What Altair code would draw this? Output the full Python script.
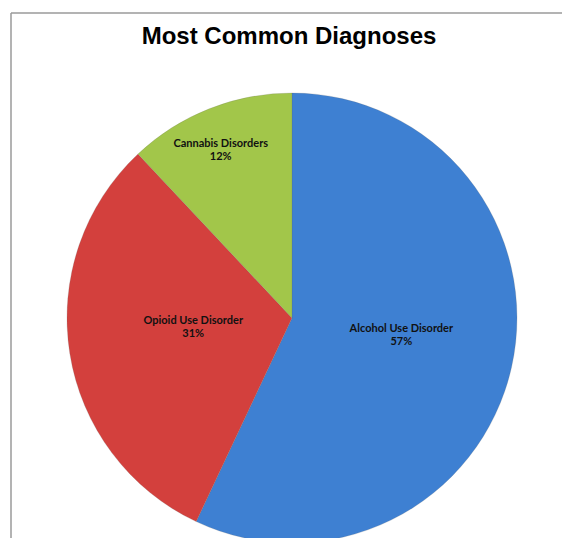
import altair as alt
import pandas as pd

categories = ["Alcohol Use Disorder", "Opioid Use Disorder", "Cannabis Disorders"]
shares = [57, 31, 12]
colors = ["#3e80d2", "#d3403d", "#a2c64a"]

df = pd.DataFrame({
    "category": categories,
    "share": shares,
    "order": list(range(len(categories))),
})
df["label"] = df["category"] + "\n" + df["share"].astype(str) + "%"

CX, CY, R = 284, 310, 225

pie = alt.Chart(df).mark_arc(outerRadius=R, stroke="#6a6a6a", strokeWidth=0.4, strokeOpacity=0.5).encode(
    theta=alt.Theta("share:Q", stack=True),
    order=alt.Order("order:Q"),
    x=alt.value(CX), y=alt.value(CY),
    color=alt.Color("category:N", scale=alt.Scale(domain=categories, range=colors), legend=None),
)

label_base = alt.Chart(df).transform_joinaggregate(
    total="sum(share)"
).transform_window(
    cum="sum(share)", sort=[alt.SortField("order")], frame=[None, 0]
).transform_calculate(
    mid="(datum.cum - datum.share / 2) / datum.total"
)

# (radius, dx, dy) label placement per slice
label_place = {
    "Alcohol Use Disorder": (111, 1, -13),
    "Opioid Use Disorder": (98, -2, -12),
    "Cannabis Disorders": (180, -5, -7),
}
labels = []
for cat, (r, ddx, ddy) in label_place.items():
    labels.append(
        label_base.transform_filter(alt.datum.category == cat)
        .mark_text(radius=r, dx=ddx, dy=ddy, font="Lato", fontWeight="bold", fontSize=11,
                   lineBreak="\n", lineHeight=13, color="#111111", baseline="middle")
        .encode(
            theta=alt.Theta("mid:Q", stack=None, scale=alt.Scale(domain=[0, 1], range=[0, 6.283185307])),
            x=alt.value(CX), y=alt.value(CY), text="label:N")
    )

title = alt.Chart(pd.DataFrame({"t": ["Most Common Diagnoses"]})).mark_text(
    font="Liberation Sans", fontWeight="bold", fontSize=24, baseline="alphabetic", color="#000000"
).encode(x=alt.value(281), y=alt.value(36), text="t:N")

top_line = alt.Chart(pd.DataFrame({"a": [0]})).mark_rule(color="#9a9a9a", strokeWidth=1.5).encode(
    x=alt.value(3), x2=alt.value(562), y=alt.value(5))
left_line = alt.Chart(pd.DataFrame({"a": [0]})).mark_rule(color="#9a9a9a", strokeWidth=1.5).encode(
    x=alt.value(3), y=alt.value(5), y2=alt.value(540))

chart = alt.layer(top_line, left_line, pie, *labels, title).resolve_scale(
    theta="independent"
).properties(
    width=554, height=530, autosize=alt.AutoSizeParams(type="none"), padding=0
).configure_view(stroke=None)

chart.save("out.html", embed_options={"renderer": "svg", "actions": False})
